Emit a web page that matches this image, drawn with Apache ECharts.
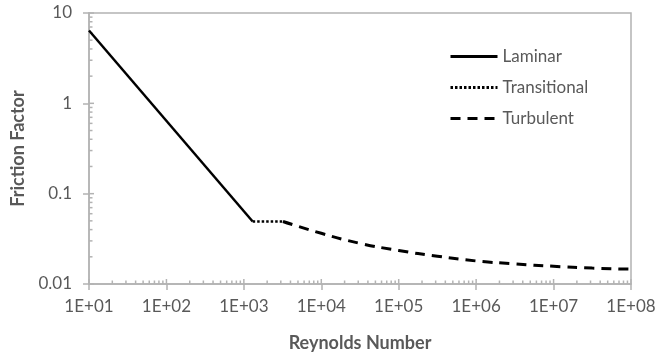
<!DOCTYPE html>
<html>
<head>
<meta charset="utf-8">
<script src="https://cdn.jsdelivr.net/npm/echarts@6/dist/echarts.min.js"></script>
<style>
  html, body { margin: 0; padding: 0; background: #fff; }
  #chart { width: 666px; height: 359px; }
</style>
</head>
<body>
<div id="chart"></div>
<script>
// 数据 (Reynolds number, friction factor)
var laminarRe = [10, 1300];
var laminarF = [6.4, 0.0492];
var transRe = [1300, 3200];
var transF = [0.0492, 0.0492];
var turbRe = [3200, 10000, 31600, 100000, 316000, 1000000, 3160000, 10000000, 31600000, 100000000];
var turbF = [0.0492, 0.0364, 0.0282, 0.0235, 0.0203, 0.0180, 0.0167, 0.0157, 0.0150, 0.0146];
var xTicks = ['1E+01', '1E+02', '1E+03', '1E+04', '1E+05', '1E+06', '1E+07', '1E+08'];
var yTicks = ['0.01', '0.1', '1', '10'];

var gray = '#b3b3b3';
var textColor = '#595959';
var font = 'Lato';

function pairs(xs, ys) {
    var out = [];
    for (var i = 0; i < xs.length; i++) out.push([xs[i], ys[i]]);
    return out;
}

// 刻度 (inside part of major ticks + minor ticks, Excel style)
var tickData = [];
for (var e = 1; e <= 8; e++) {
    for (var k = 1; k <= 9; k++) {
        var v = k * Math.pow(10, e);
        if (e === 8 && k > 1) break;
        tickData.push([v, 0.01, 0, k === 1 ? 5 : 3.5]);
    }
}
for (var e2 = -2; e2 <= 1; e2++) {
    for (var k2 = 1; k2 <= 9; k2++) {
        var v2 = k2 * Math.pow(10, e2);
        if (e2 === 1 && k2 > 1) break;
        tickData.push([10, v2, 1, k2 === 1 ? 5 : 3.5]);
    }
}

var chart = echarts.init(document.getElementById('chart'));
var option = {
    animation: false,
    textStyle: { fontFamily: font },
    grid: {
        left: 89,
        right: 35,
        top: 13,
        bottom: 75,
        show: true,
        borderColor: gray,
        borderWidth: 1.5
    },
    legend: {
        data: ['Laminar', 'Transitional', 'Turbulent'],
        orient: 'vertical',
        left: 444,
        top: 43,
        itemWidth: 47,
        itemHeight: 14,
        itemGap: 14,
        itemStyle: { color: 'transparent', borderWidth: 0, opacity: 0 },
        lineStyle: { width: 3 },
        textStyle: { color: textColor, fontSize: 17, fontFamily: font }
    },
    xAxis: {
        type: 'log',
        logBase: 10,
        min: 10,
        max: 1e8,
        splitNumber: 7,
        name: 'Reynolds Number',
        nameLocation: 'middle',
        nameGap: 50,
        nameTextStyle: { color: textColor, fontSize: 18, fontWeight: 'bold', fontFamily: font },
        axisLine: { lineStyle: { color: gray, width: 1.5 } },
        axisTick: { show: true, length: 6, lineStyle: { color: gray, width: 1.5 } },
        axisLabel: {
            color: textColor,
            fontSize: 17,
            margin: 14,
            formatter: function (v) {
                var i = Math.round(Math.log10(v)) - 1;
                return xTicks[i];
            }
        },
        splitLine: { show: false }
    },
    yAxis: {
        type: 'log',
        logBase: 10,
        min: 0.01,
        max: 10,
        name: 'Friction Factor',
        nameLocation: 'middle',
        nameGap: 58,
        nameTextStyle: { color: textColor, fontSize: 18, fontWeight: 'bold', fontFamily: font },
        axisLine: { show: true, lineStyle: { color: gray, width: 1.5 } },
        axisTick: { show: true, length: 6, lineStyle: { color: gray, width: 1.5 } },
        axisLabel: {
            color: textColor,
            fontSize: 17,
            margin: 17,
            formatter: function (v) {
                var i = Math.round(Math.log10(v)) + 2;
                return yTicks[i];
            }
        },
        splitLine: { show: false }
    },
    series: [
        {
            name: 'ticks',
            type: 'custom',
            silent: true,
            clip: false,
            z: 1,
            data: tickData,
            renderItem: function (params, api) {
                var p = api.coord([api.value(0), api.value(1)]);
                var len = api.value(3);
                var shape = api.value(2) === 0
                    ? { x1: p[0], y1: p[1], x2: p[0], y2: p[1] - len }
                    : { x1: p[0], y1: p[1], x2: p[0] + len, y2: p[1] };
                return {
                    type: 'line',
                    shape: shape,
                    style: { stroke: gray, lineWidth: 1.5 }
                };
            }
        },
        {
            name: 'Laminar',
            type: 'line',
            data: pairs(laminarRe, laminarF),
            showSymbol: false,
            symbol: 'none',
            lineStyle: { color: '#000', width: 2.5, type: 'solid' },
            itemStyle: { color: '#000' }
        },
        {
            name: 'Transitional',
            type: 'line',
            data: pairs(transRe, transF),
            showSymbol: false,
            symbol: 'none',
            lineStyle: { color: '#000', width: 2.5, type: [2.5, 2] },
            itemStyle: { color: '#000' }
        },
        {
            name: 'Turbulent',
            type: 'line',
            data: pairs(turbRe, turbF),
            smooth: true,
            showSymbol: false,
            symbol: 'none',
            lineStyle: { color: '#000', width: 3, type: [10, 7] },
            itemStyle: { color: '#000' }
        }
    ]
};
chart.setOption(option);
</script>
</body>
</html>
